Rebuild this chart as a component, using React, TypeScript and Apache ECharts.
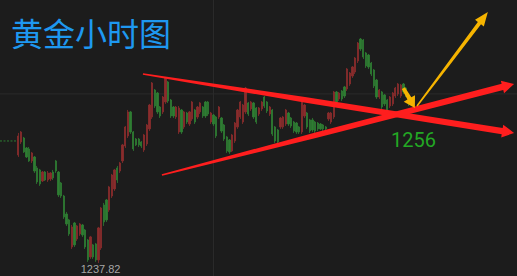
import React, { useEffect, useRef } from "react";
import * as echarts from "echarts";

// Gold hourly candles: open / close / low / high
const open = [
  1250.91, 1252.49, 1252.97, 1251.76, 1251.64, 1250.19, 1250.67, 1249.34, 1249.10, 1247.76,
  1248.85, 1247.88, 1248.00, 1248.85, 1250.19, 1248.85, 1247.52, 1245.94, 1243.76, 1243.04,
  1239.76, 1242.67, 1240.73, 1241.34, 1242.43, 1241.82, 1240.61, 1238.55, 1240.01, 1240.13,
  1238.19, 1239.64, 1244.85, 1245.46, 1244.25, 1245.94, 1246.79, 1249.34, 1248.97, 1250.19,
  1252.00, 1253.22, 1256.13, 1253.70, 1252.85, 1252.85, 1252.49, 1251.52, 1252.25, 1254.07,
  1255.52, 1258.79, 1258.43, 1256.73, 1256.13, 1257.34, 1259.76, 1257.58, 1256.73, 1255.52,
  1253.70, 1256.37, 1254.31, 1256.00, 1254.67, 1255.28, 1256.37, 1255.52, 1256.13, 1256.73,
  1257.34, 1257.34, 1254.91, 1255.76, 1255.52, 1255.52, 1255.40, 1254.55, 1253.10, 1252.73,
  1251.40, 1252.61, 1254.31, 1255.52, 1254.91, 1256.13, 1257.22, 1256.49, 1257.22, 1256.61,
  1255.88, 1256.49, 1257.94, 1257.34, 1255.88, 1256.37, 1254.31, 1253.94, 1254.31, 1254.31,
  1254.67, 1256.00, 1255.40, 1254.91, 1254.79, 1254.31, 1253.70, 1255.64, 1256.00, 1255.16,
  1255.16, 1254.91, 1254.79, 1254.67, 1254.55, 1254.31, 1255.28, 1254.91, 1255.52, 1258.55,
  1257.70, 1258.67, 1259.16, 1258.91, 1259.52, 1260.49, 1260.97, 1262.31, 1264.97, 1264.85,
  1263.28, 1263.03, 1262.06, 1261.22, 1260.00, 1257.94, 1258.55, 1258.19, 1257.58, 1256.85,
  1257.10, 1258.06, 1258.31, 1258.06, 1259.52, 1259.03, 1258.19,
];
const close = [
  1253.22, 1253.70, 1251.28, 1250.67, 1250.19, 1251.16, 1248.97, 1247.64, 1247.40, 1248.85,
  1247.88, 1248.73, 1248.73, 1248.13, 1248.97, 1246.07, 1245.94, 1243.40, 1242.55, 1241.34,
  1242.19, 1240.01, 1242.31, 1242.55, 1241.22, 1239.76, 1238.19, 1240.98, 1238.55, 1238.19,
  1242.07, 1244.49, 1242.79, 1243.04, 1247.04, 1248.49, 1249.10, 1247.88, 1249.94, 1252.13,
  1254.31, 1256.13, 1253.70, 1251.64, 1252.13, 1252.13, 1252.00, 1253.34, 1254.55, 1256.97,
  1259.64, 1256.85, 1256.13, 1255.64, 1257.94, 1260.25, 1257.46, 1255.64, 1255.64, 1256.73,
  1256.61, 1253.70, 1256.13, 1254.91, 1256.13, 1257.34, 1254.91, 1256.73, 1257.22, 1255.64,
  1255.64, 1255.88, 1256.00, 1254.67, 1253.22, 1256.73, 1253.82, 1252.85, 1251.40, 1251.28,
  1253.34, 1254.79, 1256.37, 1257.34, 1256.97, 1259.03, 1255.88, 1257.34, 1255.52, 1254.91,
  1256.61, 1257.34, 1256.85, 1256.25, 1256.73, 1253.46, 1252.61, 1252.49, 1255.40, 1255.52,
  1256.37, 1254.67, 1254.43, 1253.82, 1253.70, 1253.70, 1257.82, 1256.97, 1254.31, 1253.82,
  1253.94, 1253.82, 1254.07, 1254.07, 1254.07, 1254.07, 1256.00, 1256.00, 1258.55, 1257.34,
  1258.43, 1257.70, 1258.06, 1261.34, 1260.85, 1261.58, 1262.67, 1264.49, 1263.76, 1262.79,
  1261.70, 1261.58, 1260.73, 1259.28, 1257.94, 1258.79, 1256.73, 1257.10, 1256.25, 1257.94,
  1258.43, 1259.03, 1259.52, 1259.40, 1258.55, 1258.19, 1257.10,
];
const low = [
  1250.67, 1252.25, 1251.16, 1250.55, 1250.07, 1249.94, 1248.73, 1247.40, 1247.16, 1247.64,
  1247.76, 1247.64, 1247.76, 1247.88, 1248.73, 1245.82, 1245.70, 1243.16, 1242.31, 1241.10,
  1239.52, 1239.76, 1240.49, 1241.10, 1240.98, 1239.52, 1237.95, 1238.31, 1238.31, 1237.95,
  1237.82, 1239.40, 1242.31, 1242.79, 1244.01, 1245.70, 1246.55, 1247.52, 1248.73, 1249.94,
  1251.76, 1252.97, 1253.46, 1251.40, 1252.00, 1251.88, 1251.76, 1251.28, 1252.00, 1253.82,
  1255.28, 1256.61, 1255.88, 1255.40, 1255.88, 1257.10, 1257.22, 1255.40, 1255.40, 1255.28,
  1253.46, 1253.46, 1254.07, 1254.67, 1254.43, 1255.04, 1254.67, 1255.28, 1255.88, 1255.40,
  1255.40, 1255.64, 1254.67, 1254.43, 1252.97, 1255.28, 1253.58, 1252.61, 1251.16, 1251.04,
  1251.28, 1252.37, 1254.07, 1255.28, 1254.67, 1255.88, 1255.64, 1256.25, 1255.28, 1254.67,
  1255.64, 1256.25, 1256.61, 1256.00, 1255.64, 1253.22, 1252.37, 1252.25, 1254.07, 1254.07,
  1254.43, 1254.43, 1254.19, 1253.58, 1253.46, 1253.46, 1253.46, 1255.40, 1254.07, 1253.58,
  1253.70, 1253.58, 1253.82, 1253.94, 1253.82, 1253.94, 1255.04, 1254.67, 1255.28, 1257.10,
  1257.46, 1257.46, 1257.82, 1258.67, 1259.28, 1260.25, 1260.73, 1262.06, 1263.52, 1262.55,
  1261.46, 1261.34, 1260.49, 1259.03, 1257.70, 1257.70, 1256.49, 1256.85, 1256.00, 1256.61,
  1256.85, 1257.82, 1258.06, 1257.82, 1258.31, 1257.94, 1256.85,
];
const high = [
  1253.58, 1253.82, 1253.10, 1251.88, 1251.88, 1251.28, 1250.79, 1249.58, 1249.22, 1248.97,
  1248.97, 1248.97, 1248.85, 1249.10, 1250.31, 1248.97, 1247.64, 1246.07, 1244.01, 1243.16,
  1242.43, 1242.79, 1242.43, 1242.67, 1242.55, 1241.94, 1240.73, 1241.10, 1240.13, 1240.25,
  1242.19, 1244.61, 1245.10, 1245.58, 1247.16, 1248.61, 1249.22, 1249.58, 1250.07, 1252.25,
  1254.43, 1256.37, 1256.25, 1253.82, 1252.97, 1252.97, 1252.61, 1253.46, 1254.67, 1257.10,
  1259.76, 1258.91, 1258.55, 1256.85, 1258.06, 1260.37, 1259.88, 1257.70, 1256.85, 1256.85,
  1256.85, 1256.49, 1256.25, 1256.13, 1256.25, 1257.46, 1256.49, 1256.85, 1257.34, 1256.85,
  1257.46, 1257.46, 1256.13, 1255.88, 1255.64, 1256.85, 1255.52, 1254.67, 1253.22, 1252.85,
  1253.46, 1254.91, 1256.49, 1257.46, 1257.10, 1259.16, 1257.34, 1257.46, 1257.34, 1256.73,
  1256.73, 1257.46, 1258.06, 1257.46, 1256.85, 1256.49, 1254.43, 1254.07, 1255.52, 1255.64,
  1256.49, 1256.13, 1255.52, 1255.04, 1254.91, 1254.43, 1257.94, 1257.10, 1256.13, 1255.28,
  1255.40, 1255.04, 1254.91, 1254.79, 1254.67, 1254.43, 1256.13, 1256.13, 1258.67, 1258.67,
  1258.55, 1258.79, 1259.28, 1261.46, 1260.97, 1261.70, 1262.79, 1264.61, 1265.09, 1264.97,
  1263.40, 1263.16, 1262.19, 1261.34, 1260.13, 1258.91, 1258.67, 1258.31, 1257.70, 1258.06,
  1258.55, 1259.16, 1259.64, 1259.52, 1259.64, 1259.16, 1258.31,
];

// The time axis leaves empty slots on the right for the projection drawings
const SLOT_COUNT = 187;
const slots = Array.from({ length: SLOT_COUNT }, (_, i) => String(i + 1));

const PRICE_MIN = 1236.24;
const PRICE_MAX = 1269.7;

// Reference levels
const prevClose = 1252.61;
const gridPrice = 1258.31;
const gridSlot = 73;

// Drawings in [slot, price]
const trendUpper = [[46.6, 1260.73], [185.4, 1253.58]];
const trendLower = [[53.7, 1248.49], [185.4, 1259.52]];
const arrowLong = [[149.1, 1256.85], [175.6, 1268.25]];
const arrowShort = [[144.0, 1259.03], [148.3, 1256.61]];
const crossText = "1256";
const crossAt = [147.8, 1252.67];

const TITLE = "黄金小时图";

const BG = "#1c1c1c";
const UP = "#8a2c2c";
const DOWN = "#2e7d32";
const LINE_RED = "#ff1e1e";
const YELLOW = "#f6b400";

type Pt = number[];

function arrowPoly(a: Pt, b: Pt, w0: number, wm: number, tm: number, w1: number, headLen: number, headW: number) {
  const dx = b[0] - a[0];
  const dy = b[1] - a[1];
  const len = Math.hypot(dx, dy);
  const ux = dx / len;
  const uy = dy / len;
  const nx = -uy;
  const ny = ux;
  const c = [b[0] - ux * headLen, b[1] - uy * headLen];
  const m = [a[0] + (c[0] - a[0]) * tm, a[1] + (c[1] - a[1]) * tm];
  const off = (p: Pt, w: number, s: number) => [p[0] + (nx * w * s) / 2, p[1] + (ny * w * s) / 2];
  return [
    off(a, w0, 1), off(m, wm, 1), off(c, w1, 1), off(c, headW, 1), b,
    off(c, headW, -1), off(c, w1, -1), off(m, wm, -1), off(a, w0, -1),
  ];
}

export default function App() {
  const ref = useRef<HTMLDivElement>(null);

  useEffect(() => {
    if (!ref.current) return;
    const chart = echarts.init(ref.current, undefined, { renderer: "svg" });
    const data = open.map((o, i) => [o, close[i], low[i], high[i]]);

    chart.setOption({
      animation: false,
      backgroundColor: BG,
      grid: { left: 17, right: 0, top: 0, bottom: 0 },
      xAxis: { type: "category", data: slots, show: false, boundaryGap: true },
      yAxis: { type: "value", min: PRICE_MIN, max: PRICE_MAX, show: false, splitLine: { show: false } },
      series: [
        {
          type: "candlestick",
          data,
          barWidth: 1.8,
          itemStyle: { color: UP, color0: DOWN, borderColor: UP, borderColor0: DOWN, borderWidth: 0.8 },
        },
      ],
    });

    // linear mapping from [slot, price] to pixels, taken from the chart's own axes
    const p0 = chart.convertToPixel({ gridIndex: 0 }, [0, PRICE_MIN]) as number[];
    const p1 = chart.convertToPixel({ gridIndex: 0 }, [1, PRICE_MAX]) as number[];
    const toPx = (pt: Pt) => [
      p0[0] + (p1[0] - p0[0]) * pt[0],
      p0[1] + ((p1[1] - p0[1]) * (pt[1] - PRICE_MIN)) / (PRICE_MAX - PRICE_MIN),
    ];
    const step = p1[0] - p0[0];

    let minIdx = 0;
    low.forEach((v, i) => {
      if (v < low[minIdx]) minIdx = i;
    });
    const lowPx = toPx([minIdx, low[minIdx]]);

    const gy = toPx([0, gridPrice])[1];
    const gx = toPx([gridSlot, PRICE_MIN])[0];
    const pcY = toPx([0, prevClose])[1];
    const crossPx = toPx(crossAt);

    const polyOf = (pts: Pt[], w0: number, wm: number, tm: number, w1: number, hl: number, hw: number, fill: string) => ({
      type: "polygon",
      silent: true,
      shape: { points: arrowPoly(toPx(pts[0]), toPx(pts[1]), w0, wm, tm, w1, hl, hw) },
      style: { fill },
      z: 20,
    });

    chart.setOption({
      graphic: [
        { type: "line", silent: true, z: 0, shape: { x1: 0, y1: gy, x2: 517, y2: gy }, style: { stroke: "#2b2b2b", lineWidth: 1 } },
        { type: "line", silent: true, z: 0, shape: { x1: gx, y1: 0, x2: gx, y2: 276 }, style: { stroke: "#2b2b2b", lineWidth: 1 } },
        {
          type: "line", silent: true, z: 1,
          shape: { x1: 0, y1: pcY, x2: p0[0] - step / 2, y2: pcY },
          style: { stroke: DOWN, lineWidth: 1, lineDash: [2, 1.5] },
        },
        polyOf(trendUpper, 1.5, 5.5, 0.45, 6.5, 12, 13, LINE_RED),
        polyOf(trendLower, 1.5, 5.5, 0.45, 6.5, 12, 13, LINE_RED),
        polyOf(arrowLong, 1.5, 3, 0.5, 4, 14, 11, YELLOW),
        polyOf(arrowShort, 3.5, 4, 0.5, 4.5, 11, 13, YELLOW),
        {
          type: "text", silent: true, z: 30, x: 11, y: 32,
          style: {
            text: TITLE, fill: "#1e98f0", fontSize: 32,
            fontFamily: '"Noto Sans CJK SC", "Noto Sans", sans-serif',
            textVerticalAlign: "middle", textAlign: "left",
          },
        },
        {
          type: "text", silent: true, z: 30, x: crossPx[0], y: crossPx[1],
          style: {
            text: crossText, fill: "#23a824", fontSize: 20,
            fontFamily: "Roboto, 'Noto Sans', sans-serif",
            textAlign: "center", textVerticalAlign: "middle",
          },
        },
        {
          type: "text", silent: true, z: 30, x: lowPx[0] + 2, y: lowPx[1] + 1,
          style: {
            text: low[minIdx].toFixed(2), fill: "#a6a6a6", fontSize: 11,
            fontFamily: "'Liberation Sans', Arial, sans-serif",
            textAlign: "center", textVerticalAlign: "top",
          },
        },
      ],
    });

    return () => chart.dispose();
  }, []);

  return <div ref={ref} style={{ position: "fixed", left: 0, top: 0, width: 517, height: 276 }} />;
}
